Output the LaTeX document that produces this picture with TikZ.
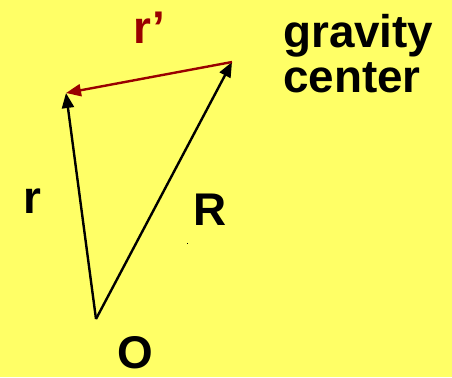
\documentclass[tikz,border=0pt]{standalone}
\usepackage{fontspec}
\setmainfont{Liberation Sans}
\usetikzlibrary{arrows.meta, positioning}
\definecolor{padyellow}{RGB}{255,255,102}
\definecolor{primered}{RGB}{153,0,0}

\begin{document}
\begin{tikzpicture}[>={Triangle[length=15bp, width=12bp]}, x=1bp, y=-1bp,
    vec/.style={->, line width=2.4bp},
    lbl/.style={inner sep=0pt, anchor=base west,
                font=\fontsize{46}{45}\selectfont\bfseries}]
  % Background
  \fill[padyellow] (0,0) rectangle (452,377);
  \useasboundingbox (0,0) rectangle (452,377);

  % Points
  \coordinate (O) at (96,319);
  \coordinate (rtip) at (66,93);
  \coordinate (grav) at (232,62);

  % Vectors
  \draw[vec] (O) -- (rtip);
  \draw[vec] (O) -- (grav);
  \draw[vec, primered] (grav) -- (rtip);

  % Labels
  \node[lbl, primered] (rprime) at (133,43) {r’};
  \node[lbl, align=left] (gcenter) at (283,92) {gravity\\center};
  \node[lbl] (rlabel) at (23,213) {r};
  \node[lbl] (Rlabel) at (193,225) {R};
  \node[lbl] (Olabel) at (117,368) {O};

  % stray dot
  \fill (186.5,242.5) rectangle +(1,1);
\end{tikzpicture}
\end{document}
